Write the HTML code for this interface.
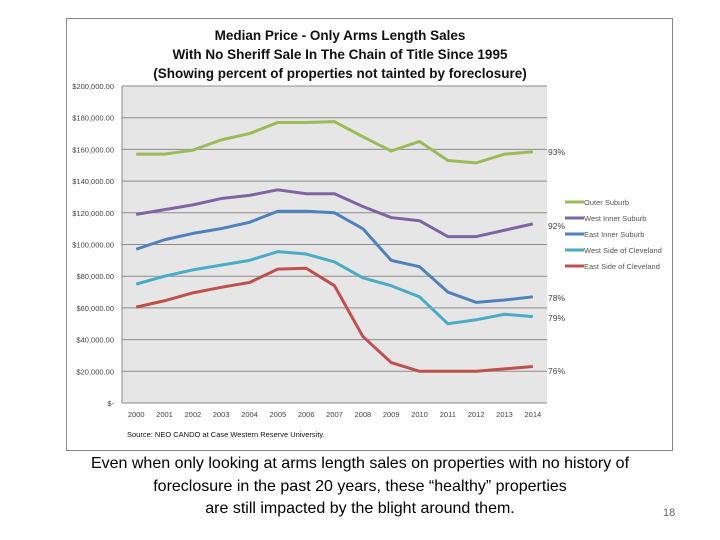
<!DOCTYPE html>
<html><head><meta charset="utf-8"><style>
body{margin:0;width:720px;height:540px;background:#fff;font-family:"Liberation Sans",sans-serif;overflow:hidden;position:relative}
#frame{position:absolute;left:66px;top:18px;width:605px;height:431px;border:1px solid #888;background:#fff}
#cap{position:absolute;left:40px;top:453px;width:640px;text-align:center;font-size:16px;line-height:22.5px;color:#000;white-space:nowrap}
#pg{position:absolute;left:663px;top:507px;font-size:11px;color:#666}
</style></head><body>
<div id="frame"></div>
<svg id="chart" width="720" height="540" style="position:absolute;left:0;top:0"></svg>
<div id="cap">Even when only looking at arms length sales on properties with no history of<br>foreclosure in the past 20 years, these “healthy” properties<br>are still impacted by the blight around them.</div>
<div id="pg">18</div>
<script>
const years=["2000","2001","2002","2003","2004","2005","2006","2007","2008","2009","2010","2011","2012","2013","2014"];
const yTicks=[0,20000,40000,60000,80000,100000,120000,140000,160000,180000,200000];
const seriesNames=["Outer Suburb","West Inner Suburb","East Inner Suburb","West Side of Cleveland","East Side of Cleveland"];
const seriesColors=["#9bbb59","#8064a2","#4f81bd","#4bacc6","#c0504d"];
const outer=[157,157,159.5,166,170,177,177,177.5,168,159,165,153,151.5,157,158.5];
const westInner=[119,122,125,129,131,134.5,132,132,124,117,115,105,105,109,113];
const eastInner=[97,103,107,110,114,121,121,120,110,90,86,70,63.5,65,67];
const westCle=[75,80,84,87,90,95.5,94,89,79,74,67,50,52.5,56,54.5];
const eastCle=[60.5,64.5,69.5,73,76,84.5,85,74,42,25.5,20,20,20,21.5,23];
const pctLabels=["93%","92%","78%","79%","76%"];
const pctY=[152,226,298,318,371];
const svg=document.getElementById('chart');const NS="http://www.w3.org/2000/svg";
const L=122,R=547,T=86,B=403;
const xs=i=>L+(R-L)/years.length*(i+0.5);
const ys=v=>B-(B-T)*v/200000;
function mk(t,a,txt){const e=document.createElementNS(NS,t);for(const k in a)e.setAttribute(k,a[k]);if(txt!==undefined)e.textContent=txt;svg.appendChild(e);return e;}
let e=mk('rect',{x:L,y:T,width:R-L,height:B-T,fill:'#e6e6e6'});

yTicks.forEach(v=>{const y=ys(v);
 if(v>0){e=mk('line',{x1:L,x2:R,y1:y,y2:y,stroke:'#8c8c8c','stroke-width':1});}
 const lab=v===0?'$-':'$'+v.toLocaleString('en-US')+'.00';
 e=mk('text',{x:114,y:y+3,'text-anchor':'end','font-size':'7.5',fill:'#444'},lab);
 });
e=mk('line',{x1:L,x2:L,y1:T,y2:B,stroke:'#888'});
e=mk('line',{x1:L,x2:R,y1:B,y2:B,stroke:'#888'});
years.forEach((yr,i)=>{e=mk('text',{x:xs(i),y:417,'text-anchor':'middle','font-size':'7.5',fill:'#444'},yr);
 });
const data=[outer,westInner,eastInner,westCle,eastCle];
data.forEach((s,k)=>{const pts=s.map((v,i)=>xs(i)+','+ys(v*1000)).join(' ');
 e=mk('polyline',{points:pts,fill:'none',stroke:seriesColors[k],'stroke-width':3,'stroke-linejoin':'round'});
 
 e=mk('text',{x:548,y:pctY[k]+3,'font-size':'8.5',fill:'#444'},pctLabels[k]);
 
 const ly=202+k*16;
 e=mk('line',{x1:565,x2:584,y1:ly,y2:ly,stroke:seriesColors[k],'stroke-width':3});
 
 e=mk('text',{x:584,y:ly+3,'font-size':'7.5',fill:'#555'},seriesNames[k]);
 });
["Median Price - Only Arms Length Sales","With No Sheriff Sale In The Chain of Title Since 1995","(Showing percent of properties not tainted by foreclosure)"].forEach((t,i)=>{
 e=mk('text',{x:340,y:40+i*19,'text-anchor':'middle','font-size':'13.5','font-weight':'bold',fill:'#111'},t);
 });
e=mk('text',{x:127,y:437,'font-size':'7.5',fill:'#111'},'Source:  NEO CANDO at Case Western Reserve University.');

</script>
</body></html>
